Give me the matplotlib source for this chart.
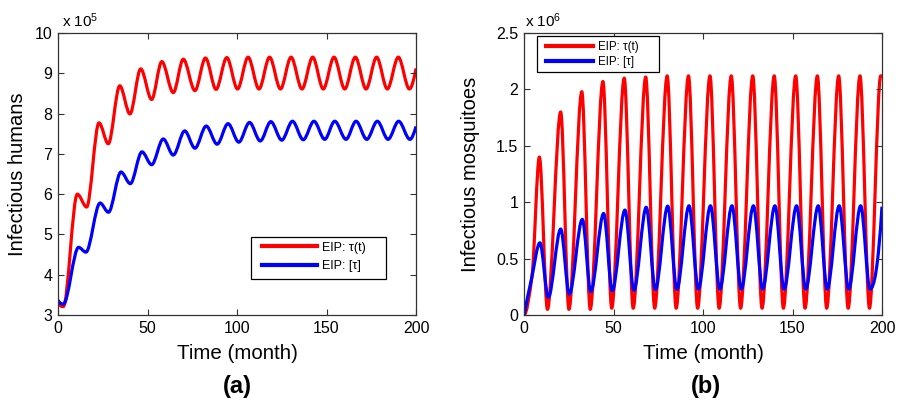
import numpy as np
import matplotlib
matplotlib.use("Agg")
import matplotlib.pyplot as plt
from matplotlib.path import Path
from matplotlib.patches import PathPatch, Rectangle
from matplotlib.lines import Line2D

plt.rcParams['font.family'] = ['Liberation Sans', 'DejaVu Sans']
plt.rcParams['mathtext.fontset'] = 'custom'
plt.rcParams['mathtext.rm'] = 'Liberation Sans'
plt.rcParams['mathtext.it'] = 'Liberation Sans:italic'

# ---- data (extrema of each oscillation) ----
# (a) infectious humans, units of 1e5
hum_var_t = [0, 3.0, 10.8, 16.0, 22.9, 28.1, 34.5, 40.2, 46.2, 52.3, 58.0, 64.4,
             70.0, 76.5, 82.4, 88.3, 94.3, 100.3, 106.2, 112.3, 118.2, 124.3, 130.2, 136.3,
             142.3, 148.2, 154.2, 160.2, 166.1, 172.1, 178.0, 184.0, 190.1, 196.3, 200]
hum_var_v = [3.33, 3.21, 6.00, 5.68, 7.77, 7.25, 8.69, 7.99, 9.11, 8.35, 9.29, 8.52,
             9.35, 8.57, 9.38, 8.60, 9.39, 8.61, 9.40, 8.61, 9.40, 8.61, 9.40, 8.61,
             9.40, 8.61, 9.40, 8.61, 9.40, 8.61, 9.40, 8.61, 9.40, 8.61, 9.12]
hum_const_t = [0, 3.0, 11.5, 15.6, 23.5, 28.2, 35.2, 40.4, 46.9, 52.3, 58.8, 64.4,
               70.8, 76.5, 82.8, 88.9, 95.0, 101.0, 107.0, 113.0, 118.9, 125.0, 131.0, 137.0,
               143.0, 149.0, 154.6, 160.9, 166.5, 172.5, 178.4, 184.4, 190.3, 196.6, 200]
hum_const_v = [3.37, 3.27, 4.68, 4.56, 5.78, 5.55, 6.55, 6.26, 7.05, 6.73, 7.37, 6.97,
               7.57, 7.14, 7.69, 7.24, 7.75, 7.29, 7.78, 7.32, 7.80, 7.34, 7.81, 7.35,
               7.81, 7.36, 7.81, 7.36, 7.81, 7.36, 7.81, 7.36, 7.81, 7.36, 7.68]

# (b) infectious mosquitoes, units of 1e6
mos_var_t = [0, 4.5, 8.6, 13.1, 20.5, 25.1, 32.3, 37.0, 44.1, 49.0, 56.0, 61.0, 68.0,
             73.0, 80.0, 85.0, 91.9, 97.0, 103.9, 109.0, 115.8, 121.0, 127.8, 133.0,
             139.8, 144.9, 151.8, 157.0, 163.9, 169.1, 175.8, 181.1, 187.7, 193.0, 199.3, 200]
mos_var_v = [0.0, 0.35, 1.40, 0.05, 1.80, 0.05, 1.98, 0.05, 2.07, 0.06, 2.10, 0.06, 2.11,
             0.06, 2.12, 0.06, 2.12, 0.06, 2.12, 0.06, 2.12, 0.06, 2.12, 0.06,
             2.12, 0.06, 2.12, 0.06, 2.12, 0.06, 2.12, 0.06, 2.12, 0.06, 2.12, 2.11]
mos_const_t = [0, 4.2, 8.9, 13.6, 20.5, 25.3, 32.6, 37.3, 44.5, 49.3, 56.4, 61.4,
               68.3, 73.4, 80.3, 85.4, 92.2, 97.4, 104.2, 109.4, 116.2, 121.4, 128.2, 133.3,
               140.2, 145.3, 152.3, 157.4, 164.4, 169.4, 176.1, 181.4, 188.1, 193.3, 200]
mos_const_v = [0.0, 0.32, 0.64, 0.157, 0.762, 0.186, 0.848, 0.207, 0.90, 0.215, 0.93, 0.22,
               0.955, 0.225, 0.965, 0.228, 0.968, 0.23, 0.968, 0.23, 0.968, 0.23, 0.968, 0.23,
               0.968, 0.23, 0.968, 0.23, 0.968, 0.23, 0.968, 0.23, 0.968, 0.23, 0.96]

labels = ['EIP: \u03c4(t)', 'EIP: [\u03c4]']
colors = ['#ff0000', '#0000ff']
x_ticks = [0, 50, 100, 150, 200]
hum_ticks = [3, 4, 5, 6, 7, 8, 9, 10]
mos_ticks = [0, 0.5, 1, 1.5, 2, 2.5]
mos_tick_labels = ['0', '0.5', '1', '1.5', '2', '2.5']


def pchip_slopes(x, y):
    x = np.asarray(x, float)
    y = np.asarray(y, float)
    h = np.diff(x)
    d = np.diff(y) / h
    n = len(x)
    m = np.zeros(n)
    for k in range(1, n - 1):
        if d[k - 1] * d[k] > 0:
            w1 = 2 * h[k] + h[k - 1]
            w2 = h[k] + 2 * h[k - 1]
            m[k] = (w1 + w2) / (w1 / d[k - 1] + w2 / d[k])

    def end(h0, h1, d0, d1):
        s = ((2 * h0 + h1) * d0 - h0 * d1) / (h0 + h1)
        if np.sign(s) != np.sign(d0):
            s = 0.0
        elif np.sign(d0) != np.sign(d1) and abs(s) > abs(3 * d0):
            s = 3 * d0
        return s
    m[0] = end(h[0], h[1], d[0], d[1])
    m[-1] = end(h[-1], h[-2], d[-1], d[-2])
    return m


def smooth_curve(ax, x, y, color, lw=2.3):
    m = pchip_slopes(x, y)
    verts = [(x[0], y[0])]
    codes = [Path.MOVETO]
    for i in range(len(x) - 1):
        dx = (x[i + 1] - x[i]) / 3.0
        verts += [(x[i] + dx, y[i] + m[i] * dx),
                  (x[i + 1] - dx, y[i + 1] - m[i + 1] * dx),
                  (x[i + 1], y[i + 1])]
        codes += [Path.CURVE4] * 3
    patch = PathPatch(Path(verts, codes), facecolor='none', edgecolor=color,
                      lw=lw, joinstyle='round', capstyle='butt')
    ax.add_patch(patch)


def boxed_legend(ax, box, anchor, fs, hl, ls):
    rect = Rectangle((box[0], box[1]), box[2] - box[0], box[3] - box[1],
                     transform=ax.transAxes, facecolor='white', edgecolor='black',
                     lw=0.9, zorder=4, clip_on=False)
    ax.add_patch(rect)
    handles = [Line2D([], [], color=c, lw=3.0) for c in colors]
    leg = ax.legend(handles, labels, loc='center left', bbox_to_anchor=anchor,
                    fontsize=fs, handlelength=hl, handletextpad=0.4, borderpad=0,
                    labelspacing=ls, frameon=False, borderaxespad=0)
    leg.set_zorder(5)
    return leg


fig = plt.figure(figsize=(9, 4), dpi=100)
axL = fig.add_axes([58 / 900, 85 / 400, 358 / 900, 282 / 400])
axR = fig.add_axes([524 / 900, 85 / 400, 358 / 900, 282 / 400])

smooth_curve(axL, hum_var_t, hum_var_v, colors[0])
smooth_curve(axL, hum_const_t, hum_const_v, colors[1])
smooth_curve(axR, mos_var_t, mos_var_v, colors[0])
smooth_curve(axR, mos_const_t, mos_const_v, colors[1])

axL.set_xlim(0, 200)
axL.set_ylim(3, 10)
axL.set_yticks(hum_ticks)
axR.set_xlim(0, 200)
axR.set_ylim(0, 2.5)
axR.set_yticks(mos_ticks)
axR.set_yticklabels(mos_tick_labels)

for ax in (axL, axR):
    ax.set_xticks(x_ticks)
    ax.tick_params(direction='in', top=True, right=True, length=4, width=0.8,
                   color='#333333', labelsize=11.5, pad=4)
    for sp in ax.spines.values():
        sp.set_color('#333333')
        sp.set_linewidth(0.9)
    ax.set_xlabel('Time (month)', fontsize=14.8, va='center')
    ax.xaxis.set_label_coords(0.5, -0.137)

axL.set_ylabel('Infectious humans', fontsize=14.5, va='center')
axL.yaxis.set_label_coords(-0.113, 0.5)
axR.set_ylabel('Infectious mosquitoes', fontsize=14.5, va='center')
axR.yaxis.set_label_coords(-0.149, 0.5)

axL.text(0.01, 1.012, r'x 10$^{\mathregular{5}}$', transform=axL.transAxes,
         fontsize=11, va='bottom', ha='left')
axR.text(0.003, 1.012, r'x 10$^{\mathregular{6}}$', transform=axR.transAxes,
         fontsize=11, va='bottom', ha='left')

boxed_legend(axL, (0.539, 0.128, 0.916, 0.277), (0.570, 0.2057), 9, 4.4, 0.55)
boxed_legend(axR, (0.0363, 0.862, 0.377, 0.989), (0.0615, 0.925), 8.3, 4.1, 0.28)

fig.text(237 / 900, 1 - 387 / 400, '(a)', fontsize=17, fontweight='bold',
         ha='center', va='center')
fig.text(706 / 900, 1 - 387 / 400, '(b)', fontsize=17, fontweight='bold',
         ha='center', va='center')

fig.savefig('out.png', dpi=100)
